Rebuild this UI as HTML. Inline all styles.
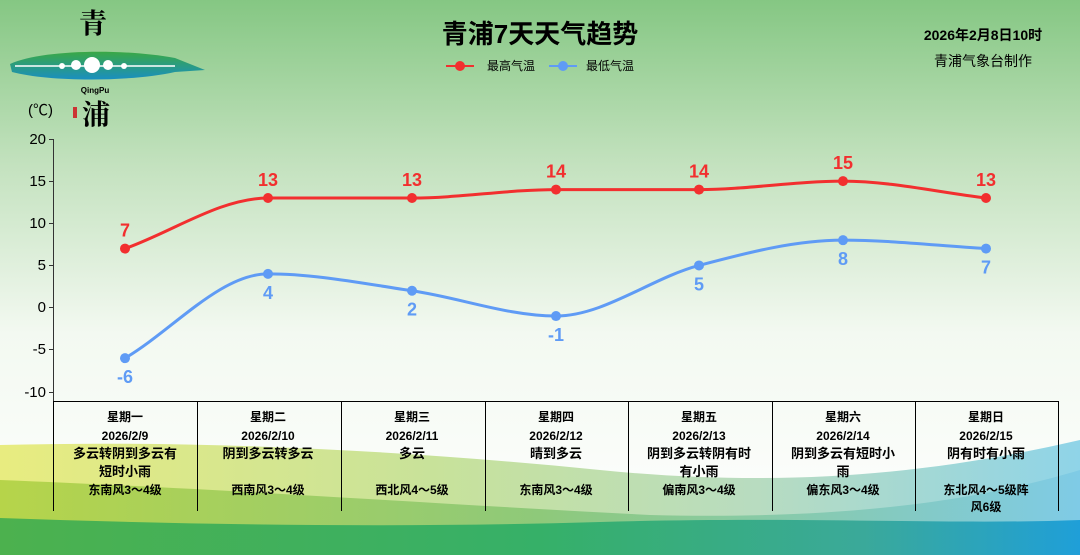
<!DOCTYPE html>
<html><head><meta charset="utf-8"><style>
body{margin:0;width:1080px;height:555px;overflow:hidden;font-family:"Liberation Sans","Noto Sans CJK SC",sans-serif}
</style></head><body>
<svg width="1080" height="555" viewBox="0 0 1080 555" xmlns="http://www.w3.org/2000/svg" font-family="Liberation Sans, Noto Sans CJK SC, sans-serif">
<defs>
<linearGradient id="bg" x1="0" y1="0" x2="0" y2="1">
<stop offset="0" stop-color="#85c783"/><stop offset="0.3" stop-color="#c4e2bf"/><stop offset="0.6" stop-color="#f3f9f1"/><stop offset="1" stop-color="#ffffff"/></linearGradient>
<linearGradient id="w1" x1="0" y1="0" x2="1" y2="0"><stop offset="0" stop-color="#e8ec80"/><stop offset="0.4" stop-color="#c8e29a"/><stop offset="0.7" stop-color="#b8dcc0"/><stop offset="1" stop-color="#8fd4e8"/></linearGradient>
<linearGradient id="w2" x1="0" y1="0" x2="1" y2="0"><stop offset="0" stop-color="#b6d44a"/><stop offset="0.5" stop-color="#8ec97a"/><stop offset="1" stop-color="#7fcbe6"/></linearGradient>
<linearGradient id="w3" x1="0" y1="0" x2="1" y2="0"><stop offset="0" stop-color="#4cb14e"/><stop offset="0.5" stop-color="#36b068"/><stop offset="0.8" stop-color="#3aa99a"/><stop offset="1" stop-color="#1f9fd8"/></linearGradient>
<linearGradient id="logo" x1="0" y1="0" x2="0" y2="1"><stop offset="0" stop-color="#3aa845"/><stop offset="1" stop-color="#1a8fc0"/></linearGradient>
</defs>
<rect width="1080" height="555" fill="url(#bg)"/>
<path d="M0 445 C200 440 400 450 600 470 C800 490 950 470 1080 440 L1080 555 L0 555Z" fill="url(#w1)"/>
<path d="M0 480 C250 490 450 505 650 515 C850 520 980 500 1080 470 L1080 555 L0 555Z" fill="url(#w2)"/>
<path d="M0 518 C200 525 400 528 600 522 C800 516 950 525 1080 520 L1080 555 L0 555Z" fill="url(#w3)"/>
<text x="93" y="33" font-size="28" font-weight="bold" text-anchor="middle" font-family="Noto Serif CJK SC,serif">青</text>
<path d="M10 64 C40 50 120 48 175 58 L205 70 L175 72 C130 82 50 82 12 72Z" fill="url(#logo)"/>
<line x1="15" y1="66" x2="175" y2="66" stroke="#fff" stroke-width="1.5"/>
<circle cx="92" cy="65" r="8" fill="#fff"/><circle cx="76" cy="65" r="5" fill="#fff"/><circle cx="108" cy="65" r="5" fill="#fff"/><circle cx="62" cy="66" r="3" fill="#fff"/><circle cx="124" cy="66" r="3" fill="#fff"/>
<text x="95" y="93" font-size="8" font-weight="bold" text-anchor="middle">QingPu</text>
<rect x="73" y="107" width="4" height="11" fill="#c33"/>
<text x="96" y="124" font-size="28" font-weight="bold" text-anchor="middle" font-family="Noto Serif CJK SC,serif">浦</text>
<text x="540" y="43" font-size="26" font-weight="bold" text-anchor="middle">青浦7天天气趋势</text>
<line x1="446" y1="66" x2="474" y2="66" stroke="#f22f2f" stroke-width="2"/><circle cx="460" cy="66" r="5" fill="#f22f2f"/>
<text x="487" y="70" font-size="12">最高气温</text>
<line x1="549" y1="66" x2="577" y2="66" stroke="#5f9bf5" stroke-width="2"/><circle cx="563" cy="66" r="5" fill="#5f9bf5"/>
<text x="586" y="70" font-size="12">最低气温</text>
<text x="983" y="40" font-size="14" font-weight="bold" text-anchor="middle">2026年2月8日10时</text>
<text x="983" y="66" font-size="14" text-anchor="middle">青浦气象台制作</text>
<text x="28" y="115" font-size="15">(℃)</text>
<g font-size="15" text-anchor="end">
<text x="46" y="144">20</text><text x="46" y="186">15</text><text x="46" y="228">10</text><text x="46" y="270">5</text><text x="46" y="312">0</text><text x="46" y="354">-5</text><text x="46" y="397">-10</text></g>
<g stroke="#333" stroke-width="1">
<line x1="53.5" y1="139" x2="53.5" y2="401"/>
<line x1="49" y1="139.5" x2="54" y2="139.5"/><line x1="49" y1="181.5" x2="54" y2="181.5"/><line x1="49" y1="223.5" x2="54" y2="223.5"/><line x1="49" y1="265.5" x2="54" y2="265.5"/><line x1="49" y1="307.5" x2="54" y2="307.5"/><line x1="49" y1="349.5" x2="54" y2="349.5"/><line x1="49" y1="392.5" x2="54" y2="392.5"/>
</g>
<g stroke="#000" stroke-width="1">
<line x1="53" y1="401.5" x2="1059" y2="401.5"/>
<line x1="53.5" y1="401" x2="53.5" y2="511"/><line x1="197.5" y1="401" x2="197.5" y2="511"/><line x1="341.5" y1="401" x2="341.5" y2="511"/><line x1="485.5" y1="401" x2="485.5" y2="511"/><line x1="628.5" y1="401" x2="628.5" y2="511"/><line x1="772.5" y1="401" x2="772.5" y2="511"/><line x1="915.5" y1="401" x2="915.5" y2="511"/><line x1="1058.5" y1="401" x2="1058.5" y2="511"/>
</g>
<g id="series"></g>
<g font-size="12" font-weight="bold" text-anchor="middle">
<text x="125" y="421">星期一</text><text x="125" y="440">2026/2/9</text><text x="125" y="458" font-size="13">多云转阴到多云有</text><text x="125" y="476" font-size="13">短时小雨</text><text x="125" y="494">东南风3～4级</text>
<text x="268" y="421">星期二</text><text x="268" y="440">2026/2/10</text><text x="268" y="458" font-size="13">阴到多云转多云</text><text x="268" y="494">西南风3～4级</text>
<text x="412" y="421">星期三</text><text x="412" y="440">2026/2/11</text><text x="412" y="458" font-size="13">多云</text><text x="412" y="494">西北风4～5级</text>
<text x="556" y="421">星期四</text><text x="556" y="440">2026/2/12</text><text x="556" y="458" font-size="13">晴到多云</text><text x="556" y="494">东南风3～4级</text>
<text x="699" y="421">星期五</text><text x="699" y="440">2026/2/13</text><text x="699" y="458" font-size="13">阴到多云转阴有时</text><text x="699" y="476" font-size="13">有小雨</text><text x="699" y="494">偏南风3～4级</text>
<text x="843" y="421">星期六</text><text x="843" y="440">2026/2/14</text><text x="843" y="458" font-size="13">阴到多云有短时小</text><text x="843" y="476" font-size="13">雨</text><text x="843" y="494">偏东风3～4级</text>
<text x="986" y="421">星期日</text><text x="986" y="440">2026/2/15</text><text x="986" y="458" font-size="13">阴有时有小雨</text><text x="986" y="494">东北风4～5级阵</text><text x="986" y="511">风6级</text>
</g>
</svg>
<script>
var xs=[125,268,412,556,699,843,986];
function Y(v){return 307.6-v*8.43;}
function path(vals){var n=xs.length,y=vals.map(Y),d=[],m=[];
for(var i=0;i<n-1;i++)d.push((y[i+1]-y[i])/(xs[i+1]-xs[i]));
m[0]=d[0];m[n-1]=d[n-2];
for(var i=1;i<n-1;i++){m[i]=(d[i-1]*d[i]<=0)?0:(d[i-1]+d[i])/2;}
for(var i=0;i<n-1;i++){if(d[i]==0){m[i]=0;m[i+1]=0;}}
var s="M"+xs[0]+" "+y[0];
for(var i=0;i<n-1;i++){var h=(xs[i+1]-xs[i])/3;
s+=" C"+(xs[i]+h)+" "+(y[i]+m[i]*h)+" "+(xs[i+1]-h)+" "+(y[i+1]-m[i+1]*h)+" "+xs[i+1]+" "+y[i+1];}return s;}
var hi=[7,13,13,14,14,15,13],lo=[-6,4,2,-1,5,8,7];
var s="";
s+='<path d="'+path(hi)+'" fill="none" stroke="#f22f2f" stroke-width="3"/>';
s+='<path d="'+path(lo)+'" fill="none" stroke="#5f9bf5" stroke-width="3"/>';
xs.forEach(function(x,i){s+='<circle cx="'+x+'" cy="'+Y(hi[i])+'" r="5" fill="#f22f2f"/>';
s+='<circle cx="'+x+'" cy="'+Y(lo[i])+'" r="5" fill="#5f9bf5"/>';
s+='<text x="'+x+'" y="'+(Y(hi[i])-12)+'" font-size="18" font-weight="bold" fill="#f22f2f" text-anchor="middle">'+hi[i]+'</text>';
s+='<text x="'+x+'" y="'+(Y(lo[i])+25)+'" font-size="18" font-weight="bold" fill="#5f9bf5" text-anchor="middle">'+lo[i]+'</text>';});
document.getElementById("series").innerHTML=s;
</script>
</body></html>
